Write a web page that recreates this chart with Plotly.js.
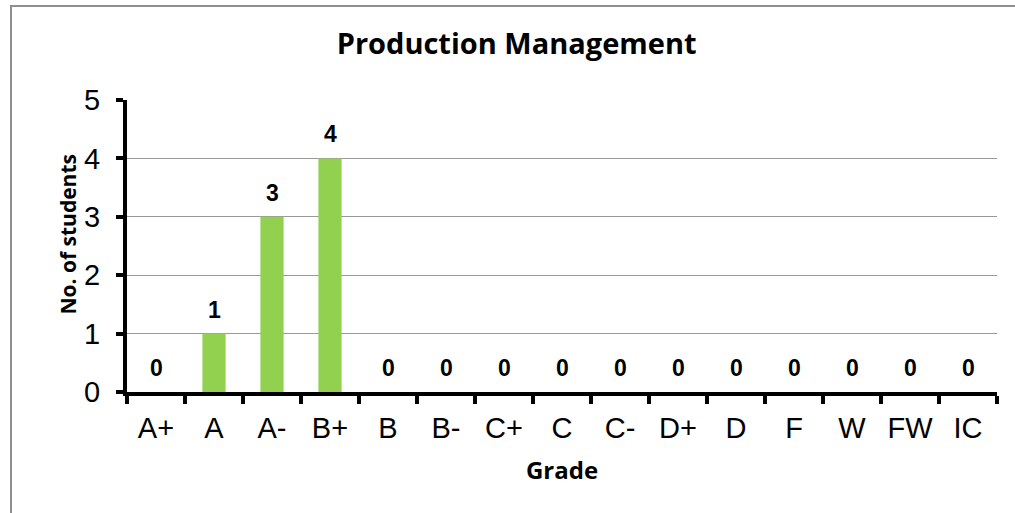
<!DOCTYPE html>
<html>
<head>
<meta charset="utf-8">
<script src="https://cdn.plot.ly/plotly-3.0.1.min.js"></script>
<style>
  html, body { margin: 0; padding: 0; overflow: hidden; background: #fff; }
  #chart { position: absolute; left: 0; top: 0; width: 1015px; height: 513px; }
  #frame { position: absolute; left: 10px; top: 5px; width: 2000px; height: 2000px;
           border-left: 2px solid #8e8e8e; border-top: 2px solid #8e8e8e; pointer-events: none; }
</style>
</head>
<body>
<div id="chart"></div>
<div id="frame"></div>
<script>
const grades = ["A+", "A", "A-", "B+", "B", "B-", "C+", "C", "C-", "D+", "D", "F", "W", "FW", "IC"];
const students = [0, 1, 3, 4, 0, 0, 0, 0, 0, 0, 0, 0, 0, 0, 0];
const chartTitle = "Production Management";
const xTitle = "Grade";
const yTitle = "No. of students";

const trace = {
  type: "bar",
  x: grades,
  y: students,
  marker: { color: "#92D050" },
  hoverinfo: "x+y"
};

const labels = grades.map((g, i) => ({
  x: g, y: students[i], xref: "x", yref: "y",
  text: String(students[i]), showarrow: false,
  yanchor: "middle", yshift: 24,
  font: { family: "Liberation Sans, Arial, sans-serif", size: 23, color: "#000", weight: "bold" }
}));

labels.push({
  xref: "paper", yref: "paper", x: -0.068, y: 0.542,
  xanchor: "center", yanchor: "middle", textangle: -90, showarrow: false,
  text: "<b>" + yTitle + "</b>",
  font: { family: "Open Sans, sans-serif", size: 21, color: "#000" }
});

const layout = {
  width: 1015, height: 513,
  margin: { l: 127, r: 18, t: 100, b: 121 },
  paper_bgcolor: "#fff", plot_bgcolor: "#fff",
  showlegend: false,
  bargap: 0.6,
  title: {
    text: "<b>" + chartTitle + "</b>",
    font: { family: "Open Sans, sans-serif", size: 29, color: "#000" },
    x: 0.509, xanchor: "center", y: 0.915, yanchor: "middle"
  },
  xaxis: {
    type: "category",
    tickfont: { family: "Liberation Sans, Arial, sans-serif", size: 29, color: "#000" },
    showline: true, linecolor: "#000", linewidth: 4,
    ticks: "outside", tickson: "boundaries", ticklen: 8, tickwidth: 4, tickcolor: "#000",
    ticklabelstandoff: 7,
    showgrid: false, zeroline: false,
    title: { text: "<b>" + xTitle + "</b>", font: { family: "Open Sans, sans-serif", size: 24, color: "#000" }, standoff: 20 }
  },
  yaxis: {
    range: [0, 5], dtick: 1,
    tickfont: { family: "Liberation Sans, Arial, sans-serif", size: 29, color: "#000" },
    showline: true, linecolor: "#000", linewidth: 4,
    ticks: "outside", ticklen: 7, tickwidth: 4, tickcolor: "#000",
    ticklabelstandoff: 10,
    showgrid: true, gridcolor: "#9a9a9a", gridwidth: 1,
    zeroline: false
  },
  annotations: labels
};

Plotly.newPlot("chart", [trace], layout, { displayModeBar: false, staticPlot: true });
</script>
</body>
</html>
